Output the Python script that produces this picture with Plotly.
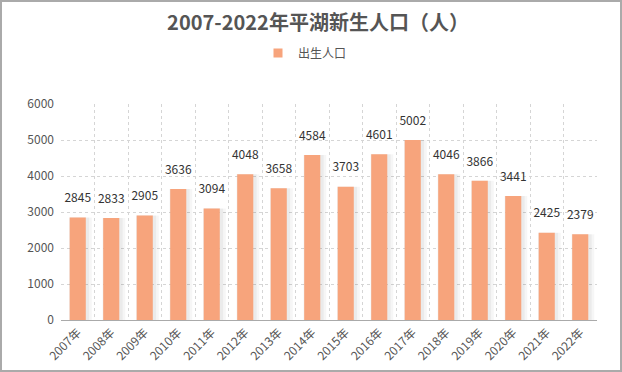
import plotly.graph_objects as go

years = ["2007年", "2008年", "2009年", "2010年", "2011年", "2012年", "2013年", "2014年",
         "2015年", "2016年", "2017年", "2018年", "2019年", "2020年", "2021年", "2022年"]
births = [2845, 2833, 2905, 3636, 3094, 4048, 3658, 4584, 3703, 4601, 5002, 4046, 3866, 3441, 2425, 2379]
y_ticks = [0, 1000, 2000, 3000, 4000, 5000, 6000]

FONT = "Microsoft YaHei, Noto Sans CJK SC, sans-serif"
BAR = "#F7A47C"
BW = 0.48

fig = go.Figure()
# soft shadow behind the bars
fig.add_trace(go.Bar(
    x=years, y=births, width=BW + 0.2, offset=-BW / 2 - 0.02,
    marker=dict(color="rgba(0,0,0,0.035)", line=dict(width=0)),
    showlegend=False, hoverinfo="skip",
))
fig.add_trace(go.Bar(
    x=years, y=births, width=BW + 0.11, offset=-BW / 2 - 0.01,
    marker=dict(color="rgba(0,0,0,0.045)", line=dict(width=0)),
    showlegend=False, hoverinfo="skip",
))
fig.add_trace(go.Bar(
    x=years, y=births, name="出生人口", width=BW, showlegend=False,
    marker=dict(color=BAR, line=dict(width=0)),
))
# value labels above bars
fig.add_trace(go.Scatter(
    x=years, y=births, mode="markers+text", showlegend=False, hoverinfo="skip",
    marker=dict(size=18, color="rgba(0,0,0,0)"),
    text=[str(v) for v in births], textposition="top center",
    textfont=dict(size=12, color="#333333", family=FONT),
    cliponaxis=False,
))
# legend entry with a small square symbol
fig.add_trace(go.Scatter(
    x=[None], y=[None], mode="markers", name="出生人口",
    marker=dict(symbol="square", size=9, color=BAR),
))

L, R, T, B = 61, 25, 104, 52
W, H = 622, 372
pw, ph = W - L - R, H - T - B

fig.update_layout(
    width=W, height=H,
    margin=dict(l=L, r=R, t=T, b=B, autoexpand=False),
    paper_bgcolor="white", plot_bgcolor="white",
    barmode="overlay",
    font=dict(family=FONT, color="#555555", size=12),
    title=dict(text="<b>2007-2022年平湖新生人口（人）</b>", x=0.5 + 7 / W, xanchor="center",
               y=1 - 23 / H, yanchor="middle",
               font=dict(size=20, color="#555555", family=FONT)),
    showlegend=True,
    legend=dict(orientation="h", x=0.5 - 24 / pw, xanchor="center", y=(H - B - 53) / ph, yanchor="middle",
                font=dict(size=12, color="#555555", family=FONT), itemwidth=30),
    xaxis=dict(showgrid=True, gridcolor="#d5d5d5", griddash="dot", gridwidth=1,
               range=[-0.5, len(years) - 0.5],
               tickson="boundaries", ticks="", tickangle=-45, automargin=False,
               showline=True, linecolor="#aaaaaa", linewidth=1,
               tickfont=dict(size=12, color="#555555", family=FONT)),
    yaxis=dict(range=[0, 6000], tickvals=y_ticks, showgrid=True, gridcolor="#d5d5d5",
               griddash="dot", gridwidth=1, zeroline=False, showline=False, automargin=False,
               ticklabelstandoff=6,
               tickfont=dict(size=12, color="#555555", family=FONT)),
    shapes=[dict(type="rect", xref="paper", yref="paper",
                 x0=(1 - L) / pw, x1=(W - 1 - L) / pw,
                 y0=(H - B - (H - 1)) / ph, y1=(H - B - 1) / ph,
                 line=dict(color="#aaaaaa", width=2), fillcolor="rgba(0,0,0,0)")],
)

fig.write_html("out.html", config={"displayModeBar": False},
               post_script="document.body.style.margin='0';")
